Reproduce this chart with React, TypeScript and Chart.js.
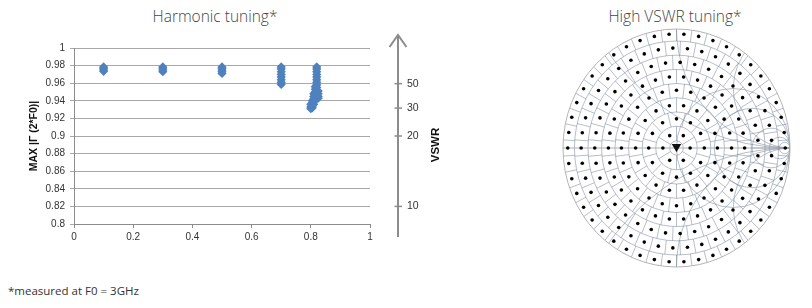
import React, { useEffect, useRef } from "react";
import { Chart, registerables } from "chart.js";

Chart.register(...registerables);

// ---------- Harmonic tuning data (x = tuner phase setting, y = MAX |Γ(2*F0)|) ----------
const gammaAt01 = [0.9735, 0.975, 0.977, 0.9785];
const gammaAt03 = [0.973, 0.975, 0.977, 0.9785];
const gammaAt05 = [0.971, 0.973, 0.975, 0.977, 0.9785];
const gammaAt07 = [0.9585, 0.961, 0.964, 0.967, 0.970, 0.973, 0.976, 0.9785];
const clusterX = [
  0.82, 0.82, 0.82, 0.82, 0.82, 0.82, 0.82, 0.82, 0.82, 0.82, 0.82,
  0.825, 0.825, 0.825, 0.825,
  0.815, 0.815, 0.815, 0.815, 0.815, 0.815,
  0.81, 0.81, 0.81, 0.81, 0.81,
  0.805, 0.805, 0.805, 0.805,
  0.80, 0.80, 0.80,
];
const clusterY = [
  0.9785, 0.976, 0.973, 0.970, 0.967, 0.964, 0.961, 0.958, 0.955, 0.952, 0.949,
  0.951, 0.948, 0.945, 0.943,
  0.956, 0.953, 0.950, 0.947, 0.944, 0.941,
  0.948, 0.945, 0.942, 0.939, 0.936,
  0.940, 0.937, 0.934, 0.932,
  0.936, 0.933, 0.931,
];

// VSWR scale drawn beside the chart (label and Γ position)
const vswrLabels = ["50", "30", "20", "10"];
const vswrGamma = [0.9595, 0.9317, 0.9, 0.82];

// ---------- High VSWR tuning (Smith chart, Γ plane) ----------
const ringGamma = [0.12, 0.245, 0.36, 0.485, 0.6, 0.72, 0.84, 0.958];
const ringDots = [6, 12, 18, 24, 30, 35, 41, 46];
const markerGamma = [{ x: 0, y: 0.01 }];
const resistanceCircles = [1, 2, 5, 10, 20];
const reactanceArcs = [0.5, 1, 2, -0.5, -1, -2];

const FONT = "'Liberation Sans', Arial, sans-serif";
const TITLE_FONT = "'Open Sans', 'Lato', sans-serif";

function buildHarmonicPoints() {
  const pts: { x: number; y: number }[] = [];
  gammaAt01.forEach((v) => pts.push({ x: 0.1, y: v }));
  gammaAt03.forEach((v) => pts.push({ x: 0.3, y: v }));
  gammaAt05.forEach((v) => pts.push({ x: 0.5, y: v }));
  gammaAt07.forEach((v) => pts.push({ x: 0.7, y: v }));
  clusterX.forEach((x, i) => pts.push({ x, y: clusterY[i] }));
  return pts;
}

function buildSmithDots() {
  const pts: { x: number; y: number }[] = [];
  ringGamma.forEach((g, k) => {
    const n = ringDots[k];
    for (let j = 0; j < n; j++) {
      const a = Math.PI + (2 * Math.PI * j) / n;
      pts.push({ x: g * Math.cos(a), y: g * Math.sin(a) });
    }
  });
  return pts;
}

const fmt = (v: any) => String(Number(Number(v).toFixed(2)));

const vswrPlugin = {
  id: "vswrArrow",
  afterDraw(chart: any) {
    const { ctx, chartArea, scales } = chart;
    const ys = scales.y;
    const ax = chartArea.right + 28;
    const top = chartArea.top - 14;
    const bottom = chartArea.bottom + 13;
    ctx.save();
    ctx.strokeStyle = "#8c8c8c";
    ctx.lineWidth = 2;
    ctx.beginPath();
    ctx.moveTo(ax, bottom);
    ctx.lineTo(ax, top + 1);
    ctx.stroke();
    ctx.beginPath();
    ctx.moveTo(ax - 8.5, top + 13);
    ctx.lineTo(ax, top + 1);
    ctx.lineTo(ax + 8.5, top + 13);
    ctx.stroke();
    ctx.lineWidth = 1.5;
    ctx.fillStyle = "#333";
    ctx.font = `10.5px ${FONT}`;
    ctx.textBaseline = "middle";
    ctx.textAlign = "left";
    vswrGamma.forEach((g, i) => {
      const y = ys.getPixelForValue(g);
      ctx.beginPath();
      ctx.moveTo(ax - 3.5, y);
      ctx.lineTo(ax + 4, y);
      ctx.stroke();
      ctx.fillText(vswrLabels[i], ax + 9, y);
    });
    ctx.translate(ax + 38, (chartArea.top + chartArea.bottom) / 2 + 9);
    ctx.rotate(-Math.PI / 2);
    ctx.textAlign = "center";
    ctx.font = `bold 11.5px ${FONT}`;
    ctx.fillStyle = "#111";
    ctx.fillText("VSWR", 0, 0);
    ctx.restore();
  },
};

const smithGridPlugin = {
  id: "smithGrid",
  beforeDatasetsDraw(chart: any) {
    const { ctx, scales } = chart;
    const xs = scales.x;
    const ys = scales.y;
    const cx = xs.getPixelForValue(0);
    const cy = ys.getPixelForValue(0);
    const sx = xs.getPixelForValue(1) - cx;
    const sy = cy - ys.getPixelForValue(1);
    const P = (u: number, v: number) => [cx + u * sx, cy - v * sy];
    const ell = (u: number, v: number, r: number) => {
      ctx.beginPath();
      ctx.ellipse(cx + u * sx, cy - v * sy, r * sx, r * sy, 0, 0, Math.PI * 2);
      ctx.stroke();
    };
    ctx.save();
    ctx.beginPath();
    ctx.ellipse(cx, cy, sx, sy, 0, 0, Math.PI * 2);
    ctx.clip();
    ctx.strokeStyle = "rgba(110,122,145,0.7)";
    ctx.lineWidth = 0.7;
    const bounds: number[] = [];
    ringGamma.forEach((g, k) => {
      const inner = k === 0 ? g / 2 : (ringGamma[k - 1] + g) / 2;
      const outer = k === ringGamma.length - 1 ? 1 : (g + ringGamma[k + 1]) / 2;
      bounds.push(inner);
      const n = ringDots[k];
      for (let j = 0; j < n; j++) {
        const a = Math.PI + (2 * Math.PI * (j + 0.5)) / n;
        const [x1, y1] = P(inner * Math.cos(a), inner * Math.sin(a));
        const [x2, y2] = P(outer * Math.cos(a), outer * Math.sin(a));
        ctx.beginPath();
        ctx.moveTo(x1, y1);
        ctx.lineTo(x2, y2);
        ctx.stroke();
      }
    });
    bounds.forEach((b) => ell(0, 0, b));
    resistanceCircles.forEach((r) => ell(r / (1 + r), 0, 1 / (1 + r)));
    reactanceArcs.forEach((x) => ell(1, 1 / x, 1 / Math.abs(x)));
    ctx.restore();
    ctx.save();
    ctx.strokeStyle = "#b4b4b4";
    ctx.lineWidth = 1;
    ctx.beginPath();
    ctx.ellipse(cx, cy, sx, sy, 0, 0, Math.PI * 2);
    ctx.stroke();
    ctx.strokeStyle = "#b0b0b0";
    ctx.lineWidth = 1.2;
    ctx.beginPath();
    ctx.moveTo(cx - sx, cy);
    ctx.lineTo(cx + sx, cy);
    ctx.stroke();
    ctx.restore();
  },
};

export default function App() {
  const leftRef = useRef<HTMLCanvasElement>(null);
  const rightRef = useRef<HTMLCanvasElement>(null);

  useEffect(() => {
    const tickFont = { family: FONT, size: 10 };
    const left = new Chart(leftRef.current as HTMLCanvasElement, {
      type: "scatter",
      data: {
        datasets: [
          {
            data: buildHarmonicPoints(),
            pointStyle: "rectRot",
            pointRadius: 4.6,
            backgroundColor: "#4F81BD",
            borderColor: "#4F81BD",
            borderWidth: 0,
          },
        ],
      },
      options: {
        responsive: false,
        animation: false,
        layout: { padding: { left: 0, top: 48, right: 100, bottom: 16 } },
        plugins: { legend: { display: false }, tooltip: { enabled: false } },
        scales: {
          x: {
            type: "linear",
            min: 0,
            max: 1,
            ticks: { stepSize: 0.2, font: tickFont, color: "#333", padding: 3, maxRotation: 0, callback: fmt },
            grid: { drawOnChartArea: false, tickLength: 4, color: "#8c8c8c" },
            border: { color: "#8c8c8c" },
            afterFit: (s: any) => {
              s.height = 20;
            },
          },
          y: {
            type: "linear",
            min: 0.8,
            max: 1,
            ticks: { stepSize: 0.02, font: tickFont, color: "#333", padding: 5, callback: fmt },
            grid: { color: "#a8a8a8", tickLength: 4 },
            border: { color: "#8c8c8c" },
            title: {
              display: true,
              text: "MAX |Γ (2*F0)|",
              font: { family: FONT, size: 10.5, weight: "bold" },
              color: "#111",
              padding: { top: 28, bottom: 0 },
            },
            afterFit: (s: any) => {
              s.width = 74;
            },
          },
        },
      } as any,
      plugins: [vswrPlugin],
    });

    const right = new Chart(rightRef.current as HTMLCanvasElement, {
      type: "scatter",
      data: {
        datasets: [
          {
            data: markerGamma,
            pointStyle: "triangle",
            rotation: 180,
            pointRadius: 5.5,
            backgroundColor: "#111",
            borderColor: "#111",
            borderWidth: 0,
          },
          {
            data: buildSmithDots(),
            pointRadius: 1.8,
            backgroundColor: "#000",
            borderWidth: 0,
          },
        ],
      },
      options: {
        responsive: false,
        animation: false,
        layout: { padding: { left: 23, right: 22, top: 29, bottom: 41 } },
        plugins: { legend: { display: false }, tooltip: { enabled: false } },
        scales: {
          x: { type: "linear", display: false, min: -1, max: 1 },
          y: { type: "linear", display: false, min: -1, max: 1 },
        },
      } as any,
      plugins: [smithGridPlugin],
    });

    return () => {
      left.destroy();
      right.destroy();
    };
  }, []);

  const titleStyle: React.CSSProperties = {
    position: "absolute",
    top: 6,
    fontFamily: TITLE_FONT,
    fontWeight: 300,
    fontSize: 15.5,
    lineHeight: "20px",
    color: "#444",
    textAlign: "center",
    whiteSpace: "nowrap",
  };

  return (
    <div
      style={{
        position: "fixed",
        left: 0,
        top: 0,
        width: 812,
        height: 308,
        background: "#fff",
        overflow: "hidden",
      }}
    >
      <div style={{ ...titleStyle, left: 0, width: 430 }}>Harmonic tuning*</div>
      <div style={{ ...titleStyle, left: 575, width: 200 }}>High VSWR tuning*</div>
      <canvas
        ref={leftRef}
        width={470}
        height={260}
        style={{ position: "absolute", left: 0, top: 0, width: 470, height: 260 }}
      />
      <canvas
        ref={rightRef}
        width={272}
        height={308}
        style={{ position: "absolute", left: 540, top: 0, width: 272, height: 308 }}
      />
      <div
        style={{
          position: "absolute",
          left: 8,
          top: 284,
          fontFamily: TITLE_FONT,
          fontSize: 11.5,
          lineHeight: "14px",
          color: "#333",
          whiteSpace: "nowrap",
        }}
      >
        *measured at F0 = 3GHz
      </div>
    </div>
  );
}
